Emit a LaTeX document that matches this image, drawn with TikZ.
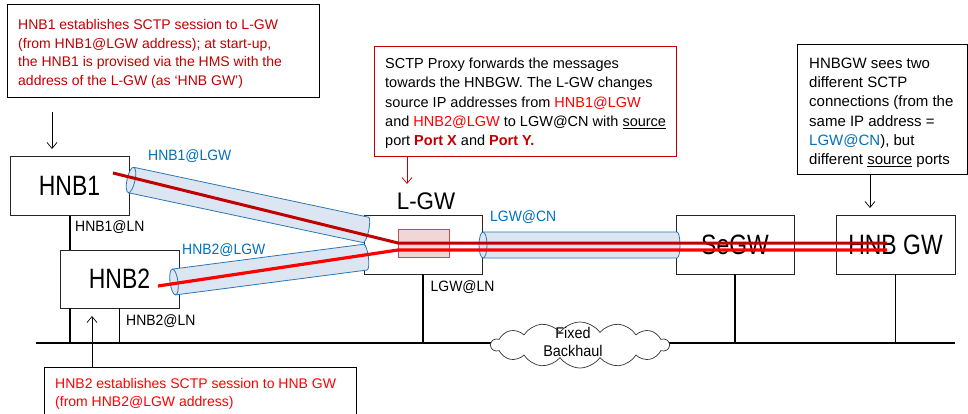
\documentclass[tikz,border=0pt]{standalone}
\usepackage{fontspec}
\setmainfont{Liberation Sans}
\newfontfamily\bigf[FakeStretch=0.82]{Liberation Sans}
\newfontfamily\labf[FakeStretch=0.93]{Liberation Sans}
\usetikzlibrary{arrows.meta,shapes.symbols}
\definecolor{dred}{HTML}{C00000}
\definecolor{bred}{HTML}{FF0000}
\definecolor{lblue}{HTML}{0070C0}
\definecolor{tubeline}{HTML}{2E75B6}
\definecolor{tubefill}{HTML}{DCE6F2}
\definecolor{pinkfill}{HTML}{F0D6D6}
\definecolor{pinkline}{HTML}{C0504D}
\newcommand\tubeseg[4]{%
  \begin{scope}[shift={(#1,#2)}, rotate=#3]
    \fill[tubefill] (0,-13) -- (#4,-13) arc[start angle=-90, end angle=90, x radius=3, y radius=13] -- (0,13) -- cycle;
    \draw[tubeline, line width=0.8pt] (0,-13) -- (#4,-13) arc[start angle=-90, end angle=90, x radius=3, y radius=13] -- (0,13);
    \draw[tubeline, line width=0.8pt, fill=tubefill] (0,0) ellipse[x radius=4, y radius=13];
  \end{scope}}
\begin{document}
\begin{tikzpicture}[x=1pt,y=-1pt,
  box/.style={draw=black!85, line width=0.9pt, fill=white, inner sep=0pt},
  bigtxt/.style={font=\bigf\fontsize{28}{30}\selectfont},
  lab/.style={font=\labf\fontsize{15}{17}\selectfont, inner sep=0pt, anchor=base west},
  body/.style={inner sep=0pt, anchor=north west, align=left},
  arr/.style={line width=0.7pt, -{Straight Barb[length=6pt,width=10pt]}},
  thickl/.style={line width=2pt},
  thinl/.style={line width=1pt}]
\useasboundingbox (0,0) rectangle (968,414);
\fill[white] (0,0) rectangle (968,414);

% backhaul
\coordinate (bhl) at (36,343);
\coordinate (bhr) at (955,343);
\draw[thickl] (bhl) -- (bhr);

% main boxes
\node[box, minimum width=119pt, minimum height=59pt, bigtxt] (hnb1) at (69.5,186) {HNB1};
\node[box, minimum width=119pt, minimum height=58pt, bigtxt] (hnb2) at (119.5,279) {HNB2};
\node[box, minimum width=118pt, minimum height=59pt] (lgw) at (423,244.5) {};
\node[box, minimum width=118pt, minimum height=59pt, bigtxt] (segw) at (735,244.5) {SeGW};
\node[box, minimum width=119pt, minimum height=59pt, bigtxt] (hnbgw) at (895.5,244.5) {HNB GW};

% network drops
\draw[thickl] (hnb1.south) -- (hnb1.south |- hnb2.north);
\draw[thickl] (hnb1.south |- hnb2.south) -- (hnb1.south |- bhl);
\draw[thinl] (hnb2.south) -- (hnb2.south |- bhl);
\draw[thickl] (lgw.south) -- (lgw.south |- bhl);
\draw[thickl] (segw.south) -- (segw.south |- bhl);
\draw[thinl] (hnbgw.south) -- (hnbgw.south |- bhl);

% cloud
\node[cloud, draw=black!80, line width=0.7pt, fill=white, cloud puffs=14, cloud puff arc=110, aspect=3.9, minimum width=178pt, minimum height=46pt, inner sep=0pt] (cloud) at (580,345) {};
\node[align=center, inner sep=0pt, anchor=north, font=\labf\fontsize{15.5}{18.5}\selectfont] (cloudtxt) at (573,327) {Fixed\\Backhaul};

% tubes
\tubeseg{131}{180}{-12}{240}
\tubeseg{174}{282}{7.4}{193}
\tubeseg{483}{245}{0}{194}

% proxy
\node[draw=pinkline, fill=pinkfill, line width=0.8pt, minimum width=51pt, minimum height=28pt, inner sep=0pt] (proxy) at (423.5,243) {};

% red sessions
\coordinate (r1a) at (113,173);
\coordinate (jn1) at (398,243);
\coordinate (r1b) at (887,243);
\coordinate (r2a) at (158,286);
\coordinate (jn2) at (398,250);
\coordinate (r2b) at (887,250);
\draw[dred, line width=3pt] (r1a) -- (jn1) -- (r1b);
\draw[bred, line width=3.2pt] (r2a) -- (jn2) -- (r2b);

% labels
\node[lab, text=lblue] (l1) at (148,160.5) {HNB1@LGW};
\node[lab] (l2) at (75,231.5) {HNB1@LN};
\node[lab, text=lblue] (l3) at (182,254) {HNB2@LGW};
\node[lab] (l4) at (126,325) {HNB2@LN};
\node[lab, text=lblue] (l5) at (490,221.5) {LGW@CN};
\node[lab] (l6) at (430.5,291.5) {LGW@LN};
\node[inner sep=0pt, anchor=base, font=\labf\fontsize{24}{26}\selectfont] (lgwlab) at (426,209) {L-GW};

% callouts
\node[draw=black, line width=0.9pt, anchor=north west, minimum width=312pt, minimum height=93pt, inner sep=0pt] (c1) at (7,4) {};
\node[body, text=dred, font=\fontsize{14}{18.7}\selectfont] (c1t) at (18,19) {HNB1 establishes SCTP session to L-GW\\(from HNB1@LGW address); at start-up,\\the HNB1 is provised via the HMS with the\\address of the L-GW (as ‘HNB GW’)};

\node[draw=dred, line width=0.9pt, anchor=north west, minimum width=302pt, minimum height=110pt, inner sep=0pt] (c2) at (374,46) {};
\node[body, font=\fontsize{14.5}{19.2}\selectfont] (c2t) at (385,58) {SCTP Proxy forwards the messages\\towards the HNBGW. The L-GW changes\\source IP addresses from \textcolor{bred}{HNB1@LGW}\\and \textcolor{bred}{HNB2@LGW} to LGW@CN with \underline{source}\\port \textbf{\textcolor{dred}{Port X}} and \textbf{\textcolor{dred}{Port Y.}}};

\node[draw=black, line width=0.9pt, anchor=north west, minimum width=169.5pt, minimum height=130pt, inner sep=0pt] (c3) at (797,44) {};
\node[body, font=\fontsize{15}{19.3}\selectfont] (c3t) at (809,57.5) {HNBGW sees two\\different SCTP\\connections (from the\\same IP address =\\\textcolor{lblue}{LGW@CN}), but\\different \underline{source} ports};

\node[draw=black, line width=0.9pt, anchor=north west, minimum width=312pt, minimum height=70pt, inner sep=0pt] (c4) at (44,367) {};
\node[body, text=bred, font=\fontsize{14}{18.3}\selectfont] (c4t) at (55,378) {HNB2 establishes SCTP session to HNB GW\\(from HNB2@LGW address)};

% arrows
\coordinate (a1s) at (52,112);
\coordinate (a1e) at (52,149);
\draw[arr] (a1s) -- (a1e);
\coordinate (a2e) at (407,184);
\draw[arr, dred] (a2e |- c2.south) -- (a2e);
\coordinate (a3e) at (870,208);
\draw[arr] (a3e |- c3.south) -- (a3e);
\coordinate (a4e) at (92,316);
\draw[arr] (a4e |- c4.north) -- (a4e);
\end{tikzpicture}
\end{document}
